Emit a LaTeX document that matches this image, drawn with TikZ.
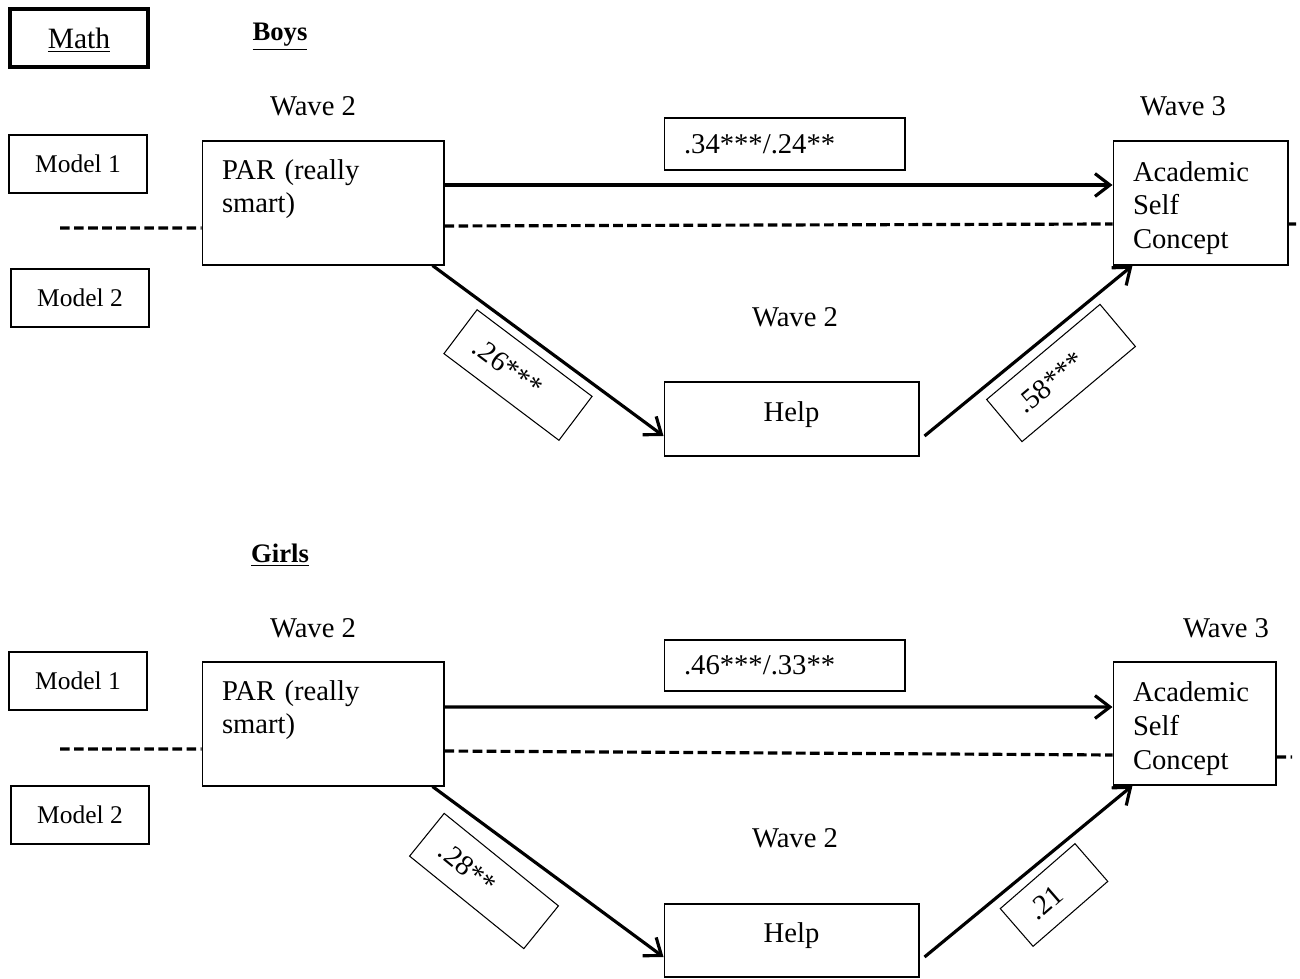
\documentclass[tikz,border=0pt]{standalone}
\usepackage{fontspec}
\setmainfont{Liberation Serif}
\usetikzlibrary{arrows.meta}

\begin{document}
\begin{tikzpicture}[x=0.02cm,y=-0.02cm,
    font=\fontsize{16.3}{19.3}\selectfont,
    box/.style={draw, line width=0.6pt},
    txtbox/.style={box, align=left, inner xsep=0.4cm, inner ysep=0pt},
    modelbox/.style={box, minimum width=2.76cm, minimum height=1.16cm, font=\fontsize{14.5}{17}\selectfont},
    helpbox/.style={box, minimum width=5.1cm, text depth=0.3cm},
    coef/.style={box, align=left, inner xsep=0.4cm, minimum height=1.1cm},
    effect/.style={line width=1.8pt, -{Straight Barb[length=8.5pt,width=13pt]}},
    modelline/.style={line width=1.8pt, dash pattern=on 5.5pt off 2.5pt},
    sex/.style={font=\fontsize{15.2}{18}\selectfont\bfseries, text depth=0pt}]
          \useasboundingbox (0,0) rectangle (1300,979);
          \node[box, line width=2.3pt, minimum width=2.76cm, minimum height=1.16cm, text depth=0pt, font=\fontsize{16.8}{20}\selectfont] (math) at (79,38) {\underline{Math}};
          \node[sex] (boys) at (280,32) {\underline{Boys}};
          \node (waveParB) at (313,106) {Wave 2};
          \node (waveAscB) at (1183,106) {Wave 3};
          \node (waveHelpB) at (795,317) {Wave 2};
          \node[modelbox] (mod1B) at (78,164) {Model 1};
          \node[modelbox] (mod2B) at (80,298) {Model 2};
          \node[txtbox, text width=4.04cm, minimum height=2.48cm] (parB) at (323,203) {PAR (really\\smart)\\~};
          \node[txtbox, text width=2.7cm, minimum height=2.48cm] (ascB) at (1200.5,203) {\rule{0pt}{0.6cm}Academic\\Self\\Concept};
          \node[helpbox, minimum height=1.48cm] (helpB) at (791.5,419) {Help};
          \node[txtbox, text width=4.02cm, minimum height=1.04cm] (c1B) at (784.5,144) {.34***/.24**};
          \node[coef, text width=2.08cm, rotate=-37] (c2B) at (518,375) {.26***};
          \node[coef, text width=2.16cm, rotate=40] (c3B) at (1061,373) {.58***};
          \coordinate (leftB) at (60,228);
          \coordinate (rightB) at (1296,224);
          \draw[modelline] (leftB) -- ([yshift=-0.5cm]parB.west);
          \draw[modelline] ([yshift=-0.46cm]parB.east) -- ([yshift=-0.42cm]ascB.west);
          \draw[modelline] ([yshift=-0.42cm]ascB.east) -- (rightB);
          \draw[effect] ([yshift=0.36cm]parB.east) -- ([yshift=0.36cm]ascB.west);
          \draw[effect] ([xshift=-0.24cm]parB.south east) -- ([yshift=-0.34cm]helpB.west);
          \draw[effect] ([xshift=0.1cm,yshift=-0.34cm]helpB.east) -- ([xshift=0.4cm]ascB.south west);

          \node[sex] (girls) at (280,553) {\underline{Girls}};
          \node (waveParG) at (313,628) {Wave 2};
          \node (waveAscG) at (1226,628) {Wave 3};
          \node (waveHelpG) at (795,838) {Wave 2};
          \node[modelbox] (mod1G) at (78,681) {Model 1};
          \node[modelbox] (mod2G) at (80,815) {Model 2};
          \node[txtbox, text width=4.04cm, minimum height=2.48cm] (parG) at (323,724) {PAR (really\\smart)\\~};
          \node[txtbox, text width=2.46cm, minimum height=2.46cm] (ascG) at (1194.5,723.5) {\rule{0pt}{0.6cm}Academic\\Self\\Concept};
          \node[helpbox, minimum height=1.46cm] (helpG) at (791.5,940.5) {Help};
          \node[txtbox, text width=4.02cm, minimum height=1.02cm] (c1G) at (784.5,665.5) {.46***/.33**};
          \node[coef, text width=2.14cm, rotate=-39] (c2G) at (484,881) {.28**};
          \node[coef, text width=1.18cm, minimum height=1cm, rotate=41] (c3G) at (1054,895) {.21};
          \coordinate (leftG) at (60,749);
          \coordinate (rightG) at (1292,757);
          \draw[modelline] (leftG) -- ([yshift=-0.5cm]parG.west);
          \draw[modelline] ([yshift=-0.54cm]parG.east) -- ([yshift=-0.63cm]ascG.west);
          \draw[modelline] ([yshift=-0.67cm]ascG.east) -- (rightG);
          \draw[effect] ([yshift=0.34cm]parG.east) -- ([yshift=0.33cm]ascG.west);
          \draw[effect] ([xshift=-0.24cm]parG.south east) -- ([yshift=-0.33cm]helpG.west);
          \draw[effect] ([xshift=0.1cm,yshift=-0.33cm]helpG.east) -- ([xshift=0.4cm]ascG.south west);
        \end{tikzpicture}
\end{document}
